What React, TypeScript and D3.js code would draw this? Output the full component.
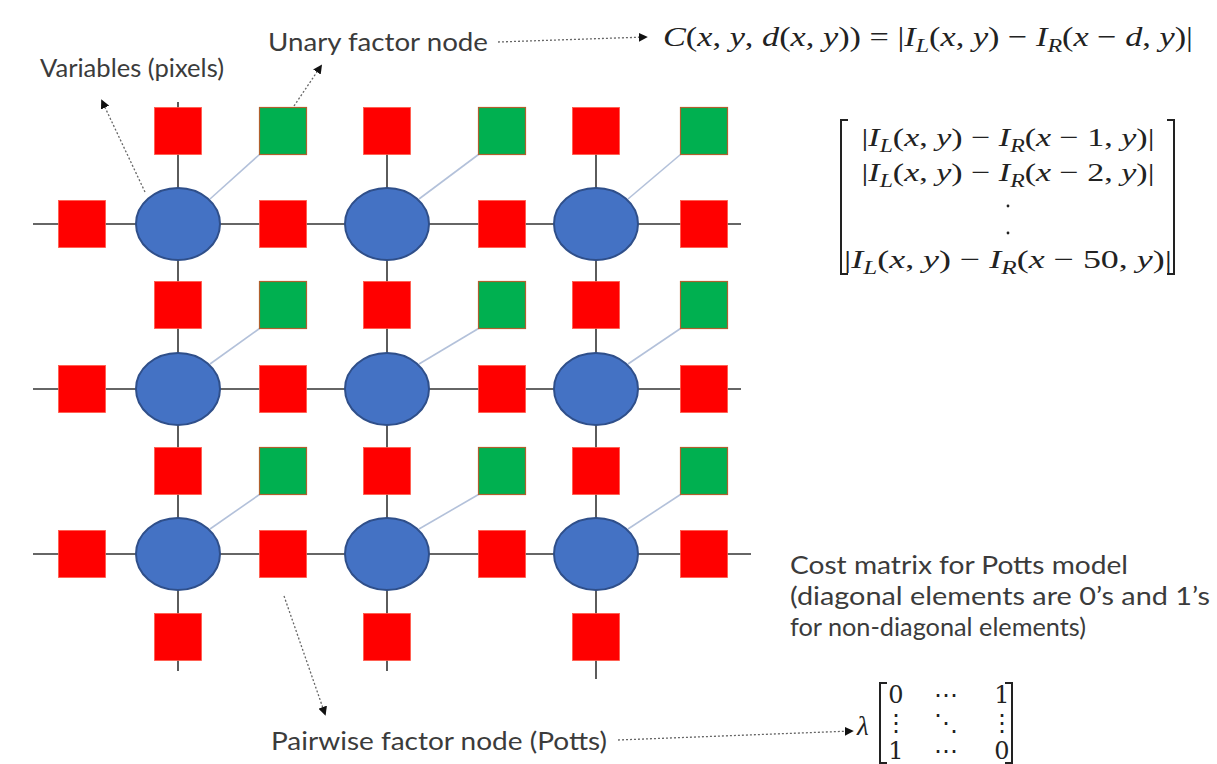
import * as d3 from "d3";
import { useEffect, useRef } from "react";

const W = 1217;
const H = 764;

// grid steps: variables sit on whole steps, factors on half steps
const gridSteps = [-0.5, 0, 0.5, 1, 1.5, 2, 2.5];
const gridXpx = [82, 178, 283, 387, 502, 596, 704];
const gridYpx = [131, 224, 305, 389, 471, 554, 637];

const cols = [0, 1, 2];
const rows = [0, 1, 2];

// label texts
const labelVariables = "Variables (pixels)";
const labelUnary = "Unary factor node";
const labelPairwise = "Pairwise factor node (Potts)";
const costLines = [
  "Cost matrix for Potts model",
  "(diagonal elements are 0\u2019s and 1\u2019s",
  "for non-diagonal elements)",
];

// math
const unaryFormula = "C(x, y, d(x, y)) = |I_L(x, y) \u2212 I_R(x \u2212 d, y)|";
const costRows = [
  "|I_L(x, y) \u2212 I_R(x \u2212 1, y)|",
  "|I_L(x, y) \u2212 I_R(x \u2212 2, y)|",
  "|I_L(x, y) \u2212 I_R(x \u2212 50, y)|",
];
const pottsRows = [
  ["0", "\u22ef", "1"],
  ["\u22ee", "\u22f1", "\u22ee"],
  ["1", "\u22ef", "0"],
];

const RED = "#ff0000";
const GREEN = "#00b050";
const BLUE = "#4472c4";
const TEXT = "#3b3b3b";
const SANS = "Lato, 'Open Sans', sans-serif";
const SERIF = "'Liberation Serif', 'DejaVu Serif', serif";

// builds a math line: letters italic, "_X" subscript
function mathText(
  g: any,
  x: number,
  y: number,
  src: string,
  size: number,
  len: number,
  anchor = "start"
) {
  const t = g
    .append("text")
    .attr("x", x)
    .attr("y", y)
    .attr("font-family", SERIF)
    .attr("font-size", size)
    .attr("fill", "#222")
    .attr("text-anchor", anchor)
    .attr("textLength", len)
    .attr("lengthAdjust", "spacingAndGlyphs");
  let shifted = false;
  for (let i = 0; i < src.length; i++) {
    const ch = src[i];
    if (ch === "_") {
      const sub = src[i + 1];
      t.append("tspan")
        .attr("font-style", "italic")
        .attr("font-size", size * 0.7)
        .attr("dy", size * 0.22)
        .text(sub);
      shifted = true;
      i++;
      continue;
    }
    const sp = t.append("tspan").text(ch);
    if (/[a-zA-Z]/.test(ch)) sp.attr("font-style", "italic");
    if (shifted) {
      sp.attr("dy", -size * 0.22);
      shifted = false;
    }
  }
  return t;
}

export default function App() {
  const svgRef = useRef<SVGSVGElement>(null);

  useEffect(() => {
    const svg = d3.select(svgRef.current);
    svg.selectAll("*").remove();

    const x = d3.scaleLinear().domain(gridSteps).range(gridXpx);
    const y = d3.scaleLinear().domain(gridSteps).range(gridYpx);
    const sq = 47;

    const defs = svg.append("defs");
    defs
      .append("marker")
      .attr("id", "head")
      .attr("viewBox", "0 0 10 10")
      .attr("refX", 8)
      .attr("refY", 5)
      .attr("markerWidth", 7)
      .attr("markerHeight", 7)
      .attr("orient", "auto")
      .append("path")
      .attr("d", "M0,0 L10,5 L0,10 z")
      .attr("fill", "#111");

    const g = svg.append("g");

    // chain lines
    rows.forEach((r) => {
      g.append("line")
        .attr("x1", x(-0.5) - 49)
        .attr("x2", x(2.5) + (r === 2 ? 47 : 37))
        .attr("y1", y(r))
        .attr("y2", y(r))
        .attr("stroke", "#333")
        .attr("stroke-width", 1.6);
    });
    cols.forEach((c) => {
      g.append("line")
        .attr("x1", x(c))
        .attr("x2", x(c))
        .attr("y1", y(-0.5) - (c === 0 ? 29 : 18))
        .attr("y2", y(2.5) + (c === 2 ? 42 : 34))
        .attr("stroke", "#333")
        .attr("stroke-width", 1.6);
    });

    const vars = cols.flatMap((c) => rows.map((r) => ({ c, r })));

    // unary connectors (light)
    vars.forEach(({ c, r }) => {
      g.append("line")
        .attr("x1", x(c) + 32)
        .attr("y1", y(r) - 25)
        .attr("x2", x(c + 0.5) - sq / 2)
        .attr("y2", y(r - 0.5) + sq / 2)
        .attr("stroke", "#b3c1da")
        .attr("stroke-width", 1.6);
    });

    // pairwise factors
    const pair: { c: number; r: number }[] = [];
    rows.forEach((r) =>
      [-0.5, 0.5, 1.5, 2.5].forEach((c) => pair.push({ c, r }))
    );
    cols.forEach((c) =>
      [-0.5, 0.5, 1.5, 2.5].forEach((r) => pair.push({ c, r }))
    );
    g.selectAll(".pair")
      .data(pair)
      .enter()
      .append("rect")
      .attr("x", (d) => x(d.c) - sq / 2)
      .attr("y", (d) => y(d.r) - sq / 2)
      .attr("width", sq)
      .attr("height", sq)
      .attr("fill", RED)
      .attr("stroke", "#ff5a4a")
      .attr("stroke-width", 0.8);

    // unary factors
    g.selectAll(".unary")
      .data(vars)
      .enter()
      .append("rect")
      .attr("x", (d) => x(d.c + 0.5) - sq / 2)
      .attr("y", (d) => y(d.r - 0.5) - sq / 2)
      .attr("width", sq)
      .attr("height", sq)
      .attr("fill", GREEN)
      .attr("stroke", "#b0602e")
      .attr("stroke-width", 1.2);

    // variables
    g.selectAll(".var")
      .data(vars)
      .enter()
      .append("ellipse")
      .attr("cx", (d) => x(d.c))
      .attr("cy", (d) => y(d.r))
      .attr("rx", 42)
      .attr("ry", 36)
      .attr("fill", BLUE)
      .attr("stroke", "#2f4f8a")
      .attr("stroke-width", 2);

    // dotted pointer arrows
    const arrow = (x1: number, y1: number, x2: number, y2: number) =>
      g
        .append("line")
        .attr("x1", x1)
        .attr("y1", y1)
        .attr("x2", x2)
        .attr("y2", y2)
        .attr("stroke", "#666")
        .attr("stroke-width", 1.3)
        .attr("stroke-dasharray", "2 2")
        .attr("marker-end", "url(#head)");
    arrow(145, 192, 102, 101);
    arrow(294, 106, 321, 66);
    arrow(498, 42, 646, 37);
    arrow(284, 596, 325, 714);
    arrow(618, 740, 852, 731);

    // labels
    const label = (txt: string, lx: number, ly: number, len: number) =>
      g
        .append("text")
        .attr("x", lx)
        .attr("y", ly)
        .attr("font-family", SANS)
        .attr("font-size", 25)
        .attr("fill", TEXT)
        .attr("textLength", len)
        .attr("lengthAdjust", "spacingAndGlyphs")
        .text(txt);
    label(labelVariables, 40, 77, 184);
    label(labelUnary, 268, 51, 220);
    label(labelPairwise, 271, 750, 336);
    const costLen = [338, 420, 296];
    costLines.forEach((t, i) => label(t, 790, 574 + i * 31, costLen[i]));

    // unary cost formula
    mathText(g, 663, 46, unaryFormula, 28, 530);

    // cost vector
    const rowY = [146, 181, 268];
    const rowLen = [293, 293, 328];
    costRows.forEach((t, i) =>
      mathText(g, 1008, rowY[i], t, 26, rowLen[i], "middle")
    );
    [206, 233].forEach((dy) =>
      g.append("circle").attr("cx", 1008).attr("cy", dy).attr("r", 1.4).attr("fill", "#222")
    );
    const bracket = (bx: number, top: number, bot: number, dir: number) =>
      g
        .append("path")
        .attr("d", `M${bx + dir * 7},${top} H${bx} V${bot} H${bx + dir * 7}`)
        .attr("fill", "none")
        .attr("stroke", "#222")
        .attr("stroke-width", 2);
    bracket(841, 120, 274, 1);
    bracket(1174, 120, 274, -1);

    // Potts matrix
    g.append("text")
      .attr("x", 857)
      .attr("y", 735)
      .attr("font-family", SERIF)
      .attr("font-style", "italic")
      .attr("font-size", 27)
      .attr("fill", "#222")
      .text("\u03bb");
    bracket(880, 683, 763, 1);
    bracket(1012, 683, 763, -1);
    const mx = [896, 946, 1002];
    const my = [703, 731, 759];
    pottsRows.forEach((row, i) =>
      row.forEach((t, j) =>
        g
          .append("text")
          .attr("x", mx[j])
          .attr("y", my[i])
          .attr("text-anchor", "middle")
          .attr("font-family", "'DejaVu Serif', serif")
          .attr("font-size", 24)
          .attr("fill", "#222")
          .text(t)
      )
    );
  }, []);

  return (
    <svg
      ref={svgRef}
      width={W}
      height={H}
      style={{ position: "absolute", left: 0, top: 0, background: "#fff" }}
    />
  );
}
